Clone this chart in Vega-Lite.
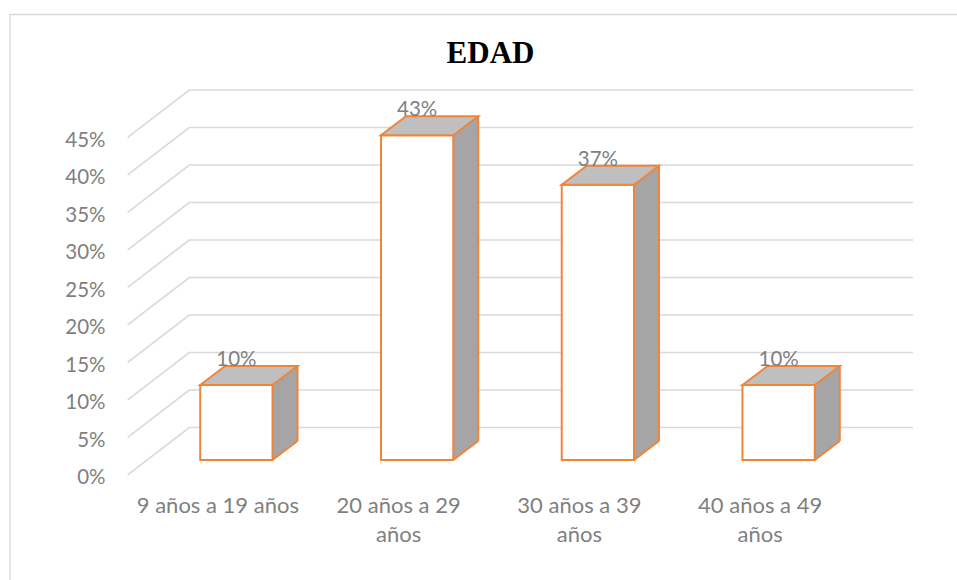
{
  "$schema": "https://vega.github.io/schema/vega-lite/v6.json",
  "width": 723,
  "height": 375,
  "autosize": {"type": "none"},
  "padding": {"left": 146, "top": 85, "right": 88, "bottom": 120},
  "background": "white",
  "config": {
    "view": {"stroke": null}
  },
  "title": {
    "text": "EDAD",
    "font": "Liberation Serif",
    "fontSize": 31,
    "fontWeight": "bold",
    "color": "#000000",
    "anchor": "middle",
    "frame": "group",
    "baseline": "alphabetic",
    "offset": -81.7,
    "dx": -17
  },
  "datasets": {
    "bars": [
      {"cat": "9 años a 19 años", "value": 0.10},
      {"cat": "20 años a 29 años", "value": 0.433},
      {"cat": "30 años a 39 años", "value": 0.367},
      {"cat": "40 años a 49 años", "value": 0.10}
    ],
    "ticks": [
      {"tick": 0}, {"tick": 0.05}, {"tick": 0.10}, {"tick": 0.15}, {"tick": 0.20},
      {"tick": 0.25}, {"tick": 0.30}, {"tick": 0.35}, {"tick": 0.40}, {"tick": 0.45}
    ],
    "frame": [{"cat": "9 años a 19 años", "value": 0}]
  },
  "data": {"name": "bars"},
  "encoding": {
    "x": {
      "field": "cat", "type": "nominal",
      "scale": {"domain": ["9 años a 19 años", "20 años a 29 años", "30 años a 39 años", "40 años a 49 años"], "paddingInner": 0, "paddingOuter": 0},
      "axis": {
        "title": null, "orient": "bottom",
        "domain": false, "ticks": false, "grid": false,
        "labelAngle": 0, "labelPadding": 35, "labelOffset": -18.5,
        "labelFont": "Lato", "labelFontSize": 22, "labelColor": "#7F7F7F",
        "labelBaseline": "top", "labelLineHeight": 29, "labelLimit": 0,
        "labelOverlap": false,
        "labelExpr": "datum.label == '9 años a 19 años' ? datum.label : [substring(datum.label, 0, 12), 'años']"
      }
    },
    "y": {
      "field": "value", "type": "quantitative",
      "scale": {"domain": [0, 0.5], "nice": false, "zero": true},
      "axis": {
        "title": null, "orient": "left",
        "domain": false, "ticks": false, "grid": false,
        "values": [0, 0.05, 0.10, 0.15, 0.20, 0.25, 0.30, 0.35, 0.40, 0.45],
        "format": ".0%", "labelPadding": 41, "labelOffset": 17.5,
        "labelFont": "Lato", "labelFontSize": 20.5, "labelColor": "#7F7F7F",
        "labelAlign": "right", "labelBaseline": "middle",
        "labelOverlap": false, "labelFlush": false
      }
    }
  },
  "layer": [
    {
      "data": {"name": "frame"},
      "mark": {
        "type": "point",
        "shape": "M-226.4,140 L-226.4,-445.5 L730.6,-445.5",
        "size": 4,
        "filled": false,
        "stroke": "#D9D9D9",
        "strokeWidth": 1.3,
        "opacity": 1
      }
    },
    {
      "data": {"name": "ticks"},
      "mark": {
        "type": "point",
        "shape": "M-108.7,14.8 L-47.1,-32.5 L676.6,-32.5",
        "size": 4,
        "filled": false,
        "stroke": "#D9D9D9",
        "strokeWidth": 1.6,
        "opacity": 1
      },
      "encoding": {
        "x": {"datum": "9 años a 19 años", "type": "nominal"},
        "y": {"field": "tick", "type": "quantitative"}
      }
    },
    {
      "mark": {"type": "bar", "width": 25, "xOffset": 48.65, "y2Offset": -19, "fill": "#A5A5A5", "strokeWidth": 0},
      "encoding": {
        "y2": {"datum": 0}
      }
    },
    {
      "mark": {"type": "point", "shape": "M36.15,1 L36.15,0 L61.15,-19 L61.15,1 Z", "size": 4, "filled": true, "fill": "#A5A5A5", "strokeWidth": 0, "opacity": 1}
    },
    {
      "mark": {"type": "point", "shape": "M36.15,-20 L61.15,-20 L61.15,-19 L36.15,0 Z", "size": 4, "filled": true, "fill": "#A5A5A5", "strokeWidth": 0, "opacity": 1},
      "encoding": {
        "y": {"datum": 0, "type": "quantitative"}
      }
    },
    {
      "mark": {"type": "bar", "width": {"band": 0.4}, "fill": "#FFFFFF", "stroke": "#F0853A", "strokeWidth": 2},
      "encoding": {
        "y2": {"datum": 0}
      }
    },
    {
      "mark": {"type": "point", "shape": "M-36.15,0 L36.15,0 L61.15,-19 L-11.15,-19 Z", "size": 4, "filled": true, "fill": "#BFBFBF", "stroke": "#F0853A", "strokeWidth": 2, "opacity": 1}
    },
    {
      "mark": {"type": "rule", "xOffset": 61.15, "yOffset": -19, "y2Offset": -19, "stroke": "#F0853A", "strokeWidth": 2},
      "encoding": {
        "y2": {"datum": 0}
      }
    },
    {
      "mark": {"type": "point", "shape": "M36.15,0 L61.15,-19", "size": 4, "filled": false, "stroke": "#F0853A", "strokeWidth": 2, "opacity": 1},
      "encoding": {
        "y": {"datum": 0, "type": "quantitative"}
      }
    },
    {
      "mark": {"type": "text", "dy": -25, "baseline": "middle", "align": "center", "font": "Lato", "fontSize": 20.5, "color": "#7F7F7F"},
      "encoding": {
        "text": {"field": "value", "type": "quantitative", "format": ".0%"}
      }
    }
  ]
}
